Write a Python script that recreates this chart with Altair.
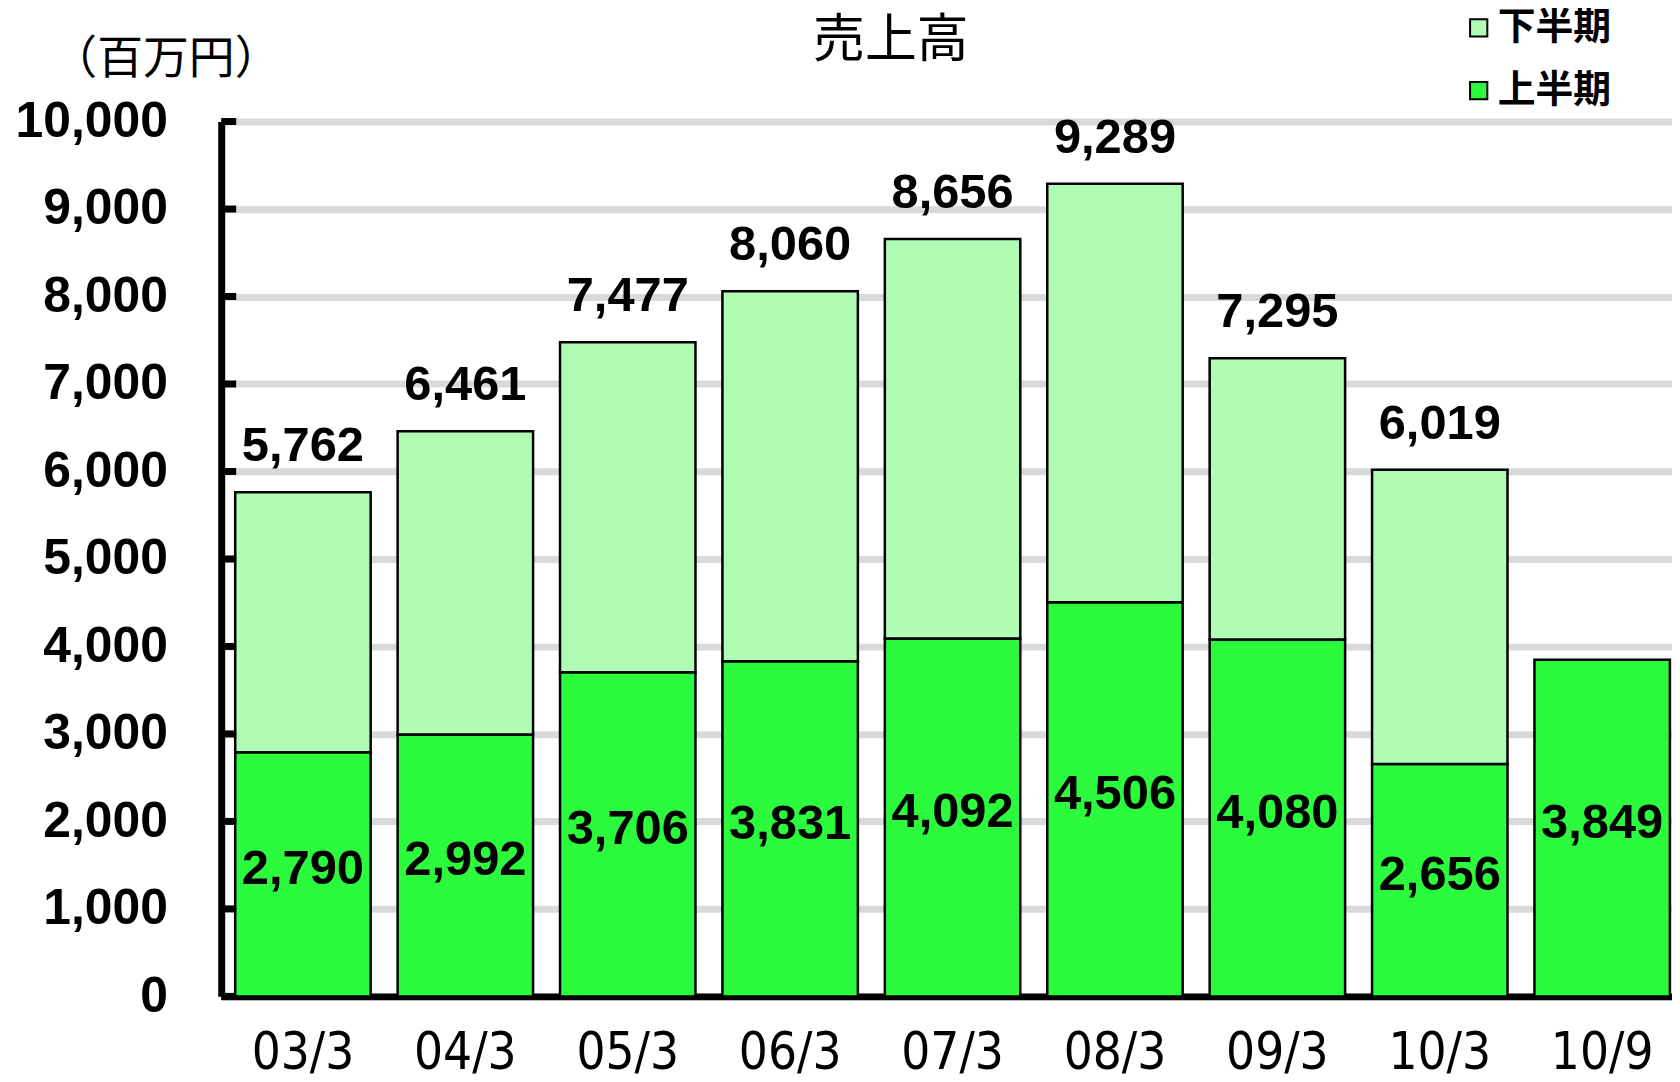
import altair as alt
import pandas as pd

categories = ["03/3", "04/3", "05/3", "06/3", "07/3", "08/3", "09/3", "10/3", "10/9"]
first_half = [2790, 2992, 3706, 3831, 4092, 4506, 4080, 2656, 3849]
second_half = [2972, 3469, 3771, 4229, 4564, 4783, 3215, 3363, None]
totals = [5762, 6461, 7477, 8060, 8656, 9289, 7295, 6019, None]
y_ticks = [0, 1000, 2000, 3000, 4000, 5000, 6000, 7000, 8000, 9000, 10000]
series_names = ["下半期", "上半期"]
series_colors = ["#B0FCB4", "#2BFA3D"]

rows = []
for c, a, b in zip(categories, first_half, second_half):
    rows.append({"cat": c, "series": "上半期", "value": a, "ord": 0})
    if b is not None:
        rows.append({"cat": c, "series": "下半期", "value": b, "ord": 1})
bars_df = pd.DataFrame(rows)
first_df = pd.DataFrame({"cat": categories, "value": first_half})
total_df = pd.DataFrame({"cat": categories, "value": totals}).dropna()
ticks_df = pd.DataFrame({"t": y_ticks})

NUM_FONT = "Liberation Sans"
JP_FONT = "Noto Sans CJK JP"

x_axis = alt.Axis(
    title=None, labelAngle=0, ticks=False, grid=False,
    domainColor="black", domainWidth=7,
    labelFont="DejaVu Sans Condensed, Liberation Sans Narrow, Liberation Sans",
    labelFontSize=51, labelColor="black",
    labelPadding=32, labelBaseline="top",
)
y_axis = alt.Axis(
    values=y_ticks, labelExpr="format(datum.value, ',')", ticks=False,
    grid=True, gridColor="#d9d9d9", gridWidth=7,
    domainColor="black", domainWidth=7,
    labelFont=NUM_FONT, labelFontSize=50, labelFontWeight="bold",
    labelColor="black", labelPadding=54,
    title="（百万円）", titleAngle=0, titleX=-56, titleY=-62,
    titleAlign="center", titleBaseline="middle",
    titleFont=JP_FONT, titleFontSize=46, titleFontWeight="normal",
    titleColor="black",
)
y_scale = alt.Scale(domain=[0, 10000], nice=False, zero=True)
x_scale = alt.Scale(paddingInner=0.166, paddingOuter=0.0495, align=0.87)

bars = alt.Chart(bars_df).mark_bar(stroke="black", strokeWidth=2.5).encode(
    x=alt.X("cat:N", sort=categories, scale=x_scale, axis=x_axis),
    y=alt.Y("value:Q", stack="zero", scale=y_scale, axis=y_axis),
    color=alt.Color(
        "series:N",
        scale=alt.Scale(domain=series_names, range=series_colors),
        legend=alt.Legend(
            orient="none", legendX=1236, legendY=-113, title=None,
            symbolType="square", symbolSize=300, symbolOffset=7,
            symbolStrokeColor="black", symbolStrokeWidth=2,
            labelFont=JP_FONT, labelFontSize=38, labelFontWeight="bold",
            labelColor="black", labelOffset=0, rowPadding=25,
        ),
    ),
    order=alt.Order("ord:Q"),
)

ticks = alt.Chart(ticks_df).mark_rule(color="black", strokeWidth=7).encode(
    y=alt.Y("t:Q", scale=y_scale, axis=y_axis),
    x=alt.value(0),
    x2=alt.value(15),
)

inner_labels = alt.Chart(first_df).transform_calculate(
    mid="datum.value / 2"
).mark_text(
    font=NUM_FONT, fontSize=49, fontWeight="bold", color="black",
    baseline="middle", dy=-5,
).encode(
    x=alt.X("cat:N", sort=categories, scale=x_scale, axis=x_axis),
    y=alt.Y("mid:Q", scale=y_scale, axis=y_axis),
    text=alt.Text("value:Q", format=","),
)

top_labels = alt.Chart(total_df).mark_text(
    font=NUM_FONT, fontSize=49, fontWeight="bold", color="black",
    baseline="alphabetic", dy=-31,
).encode(
    x=alt.X("cat:N", sort=categories, scale=x_scale, axis=x_axis),
    y=alt.Y("value:Q", scale=y_scale, axis=y_axis),
    text=alt.Text("value:Q", format=","),
)

chart = alt.layer(bars, ticks, inner_labels, top_labels).properties(
    width=1456,
    height=878,
    autosize=alt.AutoSizeParams(type="none"),
    padding={"left": 214, "top": 112, "right": 0, "bottom": 84},
    title=alt.TitleParams(
        "売上高", anchor="middle", frame="group", dx=-56, dy=104,
        font=JP_FONT, fontSize=52, fontWeight="normal", color="black",
        baseline="middle", offset=20,
    ),
).configure_view(stroke=None)

chart.save("out.html", embed_options={"renderer": "svg", "actions": False})
